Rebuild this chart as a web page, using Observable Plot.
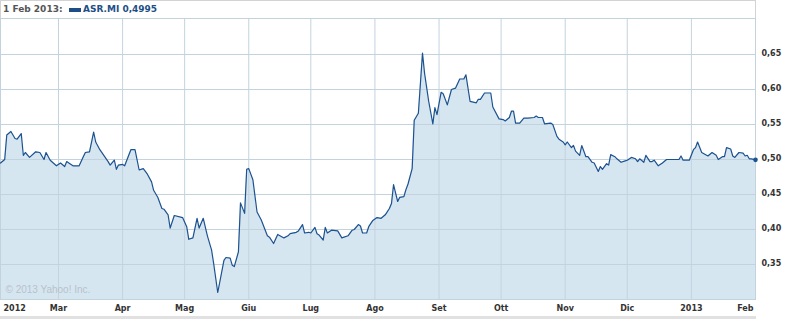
<!DOCTYPE html>
<html>
<head>
<meta charset="utf-8">
<script src="https://cdn.jsdelivr.net/npm/d3@7"></script>
<script src="https://cdn.jsdelivr.net/npm/@observablehq/plot@0.6"></script>
<style>
  html, body { margin: 0; padding: 0; background: #fff; }
  body { width: 799px; height: 319px; overflow: hidden; position: relative; font-family: "DejaVu Sans", sans-serif; }
  #hdr { position: absolute; left: 0; top: 0; width: 756px; height: 18px; box-sizing: border-box;
         border: 1px solid #d3d3d3; border-bottom: none; font-size: 9px; font-weight: bold; white-space: nowrap; }
  #hdr .d { position: absolute; left: 2px; top: 3px; color: #555; }
  #hdr .sw { position: absolute; left: 68px; top: 7px; width: 12px; height: 4px; background: #1d4f86; }
  #hdr .v { position: absolute; left: 82px; top: 3px; color: #1d4f86; }
  #chart { position: absolute; left: 0; top: 18px; }
  #bar { position: absolute; left: 0; top: 316px; width: 756px; height: 3px; background: #e1e1e1; }
</style>
</head>
<body>
<div id="hdr"></div>
<div id="chart"></div>
<div id="bar"></div>
<script>
// ---- data (ASR.MI, 1 year to 1 Feb 2013) ----
const headerDate = "1 Feb 2013";
const ticker = "ASR.MI";
const lastValue = 0.4995;

const dates = [
  "2012-02-01","2012-02-02","2012-02-04","2012-02-05","2012-02-07","2012-02-09","2012-02-10","2012-02-12","2012-02-13","2012-02-14",
  "2012-02-16","2012-02-19","2012-02-21","2012-02-23","2012-02-24","2012-02-26","2012-02-29","2012-03-02","2012-03-04","2012-03-05",
  "2012-03-06","2012-03-08","2012-03-11","2012-03-13","2012-03-14","2012-03-16","2012-03-18","2012-03-19","2012-03-21","2012-03-25",
  "2012-03-26","2012-03-28","2012-03-29","2012-03-30","2012-04-01","2012-04-02","2012-04-05","2012-04-07","2012-04-09","2012-04-11",
  "2012-04-13","2012-04-15","2012-04-16","2012-04-18","2012-04-20","2012-04-21","2012-04-23","2012-04-24","2012-04-26","2012-04-30",
  "2012-05-02","2012-05-03","2012-05-05","2012-05-07","2012-05-08","2012-05-10","2012-05-12","2012-05-14","2012-05-15","2012-05-17",
  "2012-05-18","2012-05-20","2012-05-21","2012-05-23","2012-05-24","2012-05-25","2012-05-27","2012-05-28","2012-05-30","2012-05-31",
  "2012-06-01","2012-06-03","2012-06-05","2012-06-07","2012-06-10","2012-06-11","2012-06-13","2012-06-15","2012-06-18","2012-06-20",
  "2012-06-21","2012-06-24","2012-06-25","2012-06-27","2012-06-28","2012-06-30","2012-07-01","2012-07-03","2012-07-04","2012-07-05",
  "2012-07-07","2012-07-08","2012-07-09","2012-07-11","2012-07-14","2012-07-16","2012-07-19","2012-07-21","2012-07-22","2012-07-24",
  "2012-07-25","2012-07-26","2012-07-28","2012-07-29","2012-07-31","2012-08-02","2012-08-04","2012-08-06","2012-08-08","2012-08-09",
  "2012-08-10","2012-08-12","2012-08-13","2012-08-15","2012-08-16","2012-08-17","2012-08-19","2012-08-20","2012-08-22","2012-08-24",
  "2012-08-25","2012-08-27","2012-08-29","2012-08-30","2012-08-31","2012-09-02","2012-09-03","2012-09-05","2012-09-07","2012-09-09",
  "2012-09-11","2012-09-13","2012-09-14","2012-09-16","2012-09-19","2012-09-20","2012-09-21","2012-09-23","2012-09-26","2012-09-27",
  "2012-09-30","2012-10-02","2012-10-03","2012-10-05","2012-10-06","2012-10-07","2012-10-08","2012-10-10","2012-10-12","2012-10-14",
  "2012-10-17","2012-10-18","2012-10-19","2012-10-21","2012-10-22","2012-10-25","2012-10-26","2012-10-28","2012-10-29","2012-10-31",
  "2012-11-01","2012-11-02","2012-11-04","2012-11-05","2012-11-06","2012-11-08","2012-11-09","2012-11-11","2012-11-12","2012-11-14",
  "2012-11-15","2012-11-17","2012-11-18","2012-11-19","2012-11-21","2012-11-22","2012-11-23","2012-11-25","2012-11-26","2012-11-28",
  "2012-11-30","2012-12-01","2012-12-03","2012-12-05","2012-12-06","2012-12-07","2012-12-09","2012-12-10","2012-12-12","2012-12-13",
  "2012-12-14","2012-12-16","2012-12-18","2012-12-20","2012-12-22","2012-12-26","2012-12-27","2012-12-28","2012-12-31","2013-01-02",
  "2013-01-03","2013-01-04","2013-01-06","2013-01-09","2013-01-11","2013-01-13","2013-01-14","2013-01-16","2013-01-17","2013-01-18",
  "2013-01-20","2013-01-21","2013-01-22","2013-01-24","2013-01-26","2013-01-27","2013-01-28","2013-01-29","2013-01-30","2013-02-01"
];
const values = [
  0.494,0.495,0.500,0.535,0.540,0.530,0.529,0.537,0.506,0.510,
  0.503,0.511,0.510,0.500,0.510,0.499,0.491,0.495,0.490,0.497,
  0.495,0.491,0.491,0.504,0.510,0.511,0.539,0.525,0.514,0.497,
  0.492,0.499,0.486,0.492,0.493,0.491,0.514,0.514,0.485,0.487,
  0.479,0.468,0.456,0.446,0.430,0.429,0.421,0.402,0.420,0.417,
  0.404,0.386,0.388,0.416,0.402,0.416,0.391,0.371,0.352,0.310,
  0.325,0.356,0.360,0.359,0.349,0.347,0.368,0.438,0.423,0.486,
  0.487,0.471,0.425,0.414,0.391,0.389,0.380,0.393,0.388,0.391,
  0.394,0.396,0.398,0.407,0.395,0.396,0.395,0.403,0.394,0.392,
  0.385,0.403,0.395,0.399,0.398,0.388,0.391,0.399,0.400,0.407,
  0.405,0.395,0.395,0.404,0.413,0.417,0.416,0.421,0.430,0.437,
  0.464,0.440,0.446,0.447,0.457,0.465,0.487,0.556,0.566,0.652,
  0.623,0.583,0.551,0.574,0.564,0.596,0.594,0.578,0.600,0.602,
  0.615,0.615,0.621,0.583,0.581,0.586,0.586,0.595,0.595,0.575,
  0.558,0.557,0.555,0.560,0.569,0.569,0.552,0.552,0.559,0.559,
  0.560,0.562,0.560,0.560,0.551,0.552,0.550,0.533,0.529,0.525,
  0.521,0.525,0.517,0.520,0.512,0.506,0.520,0.504,0.504,0.496,
  0.495,0.483,0.490,0.486,0.494,0.492,0.507,0.504,0.501,0.496,
  0.498,0.499,0.503,0.501,0.497,0.501,0.496,0.506,0.497,0.497,
  0.499,0.491,0.495,0.500,0.500,0.500,0.505,0.499,0.499,0.514,
  0.517,0.525,0.510,0.505,0.510,0.506,0.500,0.504,0.504,0.517,
  0.515,0.505,0.503,0.510,0.509,0.505,0.506,0.501,0.501,0.4995
];

const xTickDates = ["2012-02-01","2012-03-01","2012-04-01","2012-05-01","2012-06-01","2012-07-01","2012-08-01",
                    "2012-09-01","2012-10-01","2012-11-01","2012-12-01","2013-01-01","2013-02-01"];
const xTickLabels = ["2012","Mar","Apr","Mag","Giu","Lug","Ago","Set","Ott","Nov","Dic","2013","Feb"];
const yTicks = [0.35, 0.40, 0.45, 0.50, 0.55, 0.60, 0.65];
const credit = "© 2013 Yahoo! Inc.";

// ---- build ----
const fmt = v => v.toFixed(2).replace(".", ",");
document.getElementById("hdr").innerHTML =
  `<span class="d">${headerDate}:</span><span class="sw"></span><span class="v">${ticker} ${String(lastValue).replace(".", ",")}</span>`;

const data = dates.map((d, i) => ({date: new Date(d), value: values[i]}));
const ticks = xTickDates.map((d, i) => ({date: new Date(d), label: xTickLabels[i]}));
const firstTick = ticks.slice(0, 1);
const lastTick = ticks.slice(-1);
const midTicks = ticks.slice(1, -1);

const LINE = "#1d5290";
const FILL = "#d6e6f1";
const GRID = "#c3d3de";
const LABEL = {frameAnchor: "bottom", dy: 9, text: "label", lineAnchor: "middle", fill: "#333", fontWeight: "bold", fontSize: 8};

const chart = Plot.plot({
  width: 799,
  height: 301,
  marginLeft: 0,
  marginRight: 44,
  marginTop: 0,
  marginBottom: 20,
  style: {fontFamily: "'DejaVu Sans', sans-serif", fontSize: "8px", background: "transparent"},
  x: {type: "utc", domain: [new Date("2012-02-01"), new Date("2013-02-01")], range: [-2, 755], axis: null},
  y: {domain: [0.30, 0.70], range: [281, 1], axis: null},
  marks: [
    Plot.areaY(data, {x: "date", y1: 0.30, y2: "value", fill: FILL}),
    Plot.ruleY(yTicks, {stroke: GRID, strokeWidth: 1}),
    Plot.ruleX(midTicks, {x: "date", stroke: GRID, strokeWidth: 1}),
    Plot.frame({stroke: GRID}),
    Plot.text([credit], {frameAnchor: "bottom-left", dx: 5, dy: -7, text: d => d, fill: "#b6c2cb",
                         fontFamily: "'Liberation Sans', Arial, sans-serif", fontSize: 10, textAnchor: "start"}),
    Plot.line(data, {x: "date", y: "value", stroke: LINE, strokeWidth: 1.2, curve: "linear"}),
    Plot.dot(data.slice(-1), {x: "date", y: "value", r: 2.3, fill: LINE, stroke: null}),
    Plot.text(yTicks, {y: d => d, frameAnchor: "right", text: fmt, dx: 6, dy: -1, textAnchor: "start",
                       fill: "#333", fontWeight: "bold", fontSize: 8}),
    Plot.text(firstTick, {...LABEL, x: "date", textAnchor: "start", dx: 5}),
    Plot.text(midTicks, {...LABEL, x: "date", textAnchor: "middle"}),
    Plot.text(lastTick, {...LABEL, x: "date", textAnchor: "end", dx: -2})
  ]
});
document.getElementById("chart").appendChild(chart);
</script>
</body>
</html>
